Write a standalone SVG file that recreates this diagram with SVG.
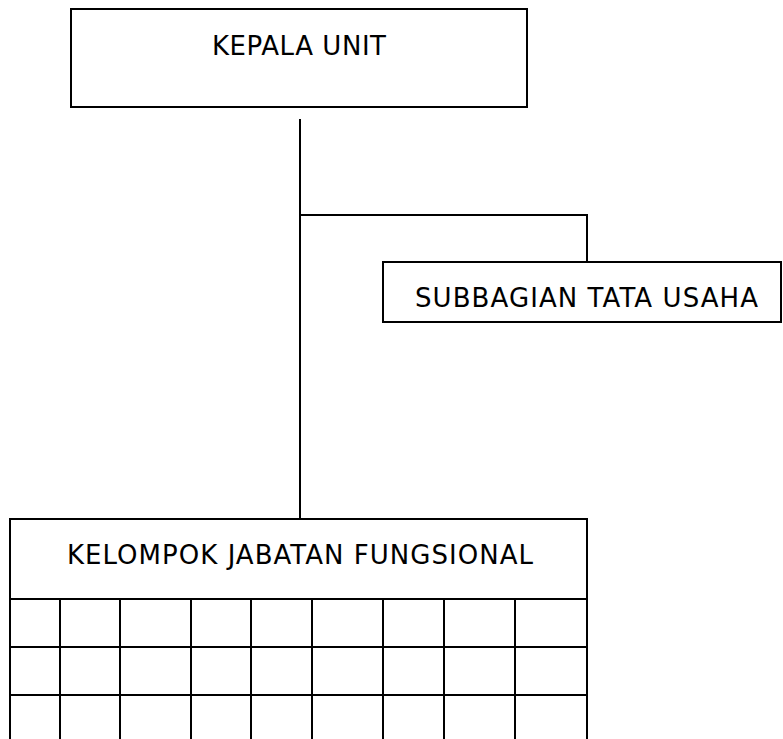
<svg xmlns="http://www.w3.org/2000/svg" width="783" height="739" viewBox="0 0 783 739">
<style>
.box{fill:#fff;stroke:#000;stroke-width:2}
.ln{fill:none;stroke:#000;stroke-width:2}
.t{font-family:"DejaVu Sans","Verdana",sans-serif;font-size:26px;fill:#000;text-anchor:start}
</style>
<rect width="783" height="739" fill="#fff"/>
<g id="connectors">
<path class="ln" d="M300,119 V519"/>
<path class="ln" d="M300,215 H587 V262"/>
</g>
<g id="kepala-unit">
<rect class="box" x="71" y="9" width="456" height="98"/>
<text class="t" x="212" y="55" textLength="174" lengthAdjust="spacing">KEPALA UNIT</text>
</g>
<g id="subbagian-tata-usaha">
<rect class="box" x="383" y="262" width="398" height="60"/>
<text class="t" x="415" y="307" textLength="343" lengthAdjust="spacing">SUBBAGIAN TATA USAHA</text>
</g>
<g id="kelompok-jabatan-fungsional">
<path class="ln" d="M10,745 V519 H587 V745"/>
<text class="t" x="67" y="564" textLength="466" lengthAdjust="spacing">KELOMPOK JABATAN FUNGSIONAL</text>
<path class="ln" d="M10,599 H587 M10,647 H587 M10,695 H587"/>
<path class="ln" d="M60,599 V745 M120,599 V745 M191,599 V745 M251,599 V745 M312,599 V745 M383,599 V745 M444,599 V745 M515,599 V745"/>
</g>
</svg>
